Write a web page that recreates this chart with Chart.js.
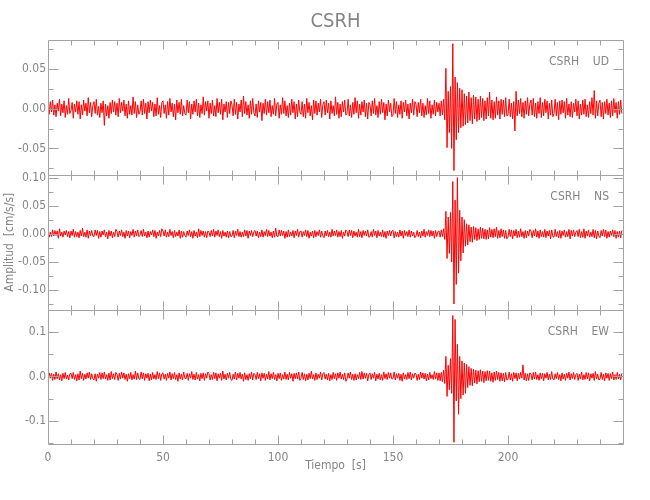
<!DOCTYPE html>
<html>
<head>
<meta charset="utf-8">
<title>CSRH</title>
<script src="https://cdn.jsdelivr.net/npm/chart.js@4.4.1/dist/chart.umd.min.js"></script>
<style>
  body { margin: 0; background: #fff; }
</style>
</head>
<body>
<canvas id="seis" width="650" height="500"></canvas>
<script>
var station = "CSRH";
var components = ["UD", "NS", "EW"];
var dt = 0.5; // s between samples

// amplitudes in 0.001 cm/s/s, one row = 10 s
var udVals = [
  3,-7,9,-4,11,-8,5,-10,7,-3,12,-9,6,-5,10,-11,4,-7,13,-6,
  -2,8,-12,6,-4,10,-7,9,-13,5,-8,11,-3,7,-9,14,-5,8,-10,4,
  9,-6,12,-8,3,-11,7,-5,10,-21,6,-9,4,-12,8,-6,11,-4,9,-8,
  7,-10,13,-5,8,-3,11,-9,6,-12,10,-7,4,-8,15,-6,9,-11,5,-7,
  -4,10,-8,12,-6,7,-13,9,-5,11,-3,8,-10,6,-9,14,-7,4,-11,8,
  10,-6,5,-12,9,-8,13,-4,7,-10,6,-14,11,-5,8,-7,12,-9,4,-6,
  -8,11,-5,9,-13,6,-7,10,-4,12,-9,7,-11,5,-6,15,-8,9,-3,10,
  -12,7,-6,11,-9,4,-10,13,-5,8,-7,12,-14,6,-4,9,-11,8,-6,10,
  5,-9,12,-7,8,-13,6,-4,11,-10,16,-6,9,-8,5,-12,10,-7,13,-5,
  -9,6,-11,10,-4,8,-15,7,-6,12,-8,9,-5,11,-10,4,-7,13,-9,6,
  8,-12,5,-7,14,-6,10,-9,4,-11,7,-8,12,-5,9,-13,6,-10,11,-4,
  -7,9,-10,6,-12,13,-5,8,-9,4,-14,11,-6,10,-8,7,-4,12,-11,5,
  9,-8,11,-5,7,-13,10,-6,4,-9,15,-7,8,-12,6,-10,9,-4,11,-8,
  -6,12,-9,5,-11,8,-7,14,-5,10,-12,6,-8,9,-4,11,-10,7,-13,8,
  5,-9,10,-6,13,-8,4,-11,9,-7,12,-5,8,-14,6,-9,11,-4,7,-10,
  -8,13,-6,9,-11,5,-7,10,-12,8,-4,11,-9,6,-13,7,-5,12,-8,9,
  6,-10,8,-5,12,-9,7,-11,4,-8,13,-6,10,-12,5,-7,11,-9,8,-4,
  7,-9,10,-8,12,-14,51,-49,22,-30,28,-50,82,-78,40,-39,33,-30,26,-24,
  24,-22,19,-20,16,-18,21,-15,14,-19,17,-13,15,-16,12,-14,16,-11,13,-15,
  10,-13,14,-9,21,-12,11,-14,9,-12,15,-8,10,-13,12,-7,11,-10,14,-9,
  -8,12,-10,7,-13,9,-28,22,-9,11,-6,13,-10,8,-12,10,-7,14,-9,6,
  11,-8,13,-10,7,-12,9,-6,14,-11,8,-9,12,-5,10,-13,7,-8,11,-10,
  -6,12,-9,8,-14,10,-7,11,-5,9,-12,13,-8,6,-10,9,-11,7,-4,12,
  -9,10,-13,6,-8,11,-7,12,-10,5,-11,9,-6,14,-8,23,-12,10,-9,7,
  11,-10,8,-13,9,-6,12,-8,7,-11,10,-9,13,-5,8,-12,9,-7,11,-6
];
var nsVals = [
  4,-6,3,-5,7,-4,6,-3,5,-8,9,-4,3,-6,5,-2,6,-5,4,-7,
  5,-3,8,-6,4,-5,3,-7,6,-4,10,-5,3,-6,7,-8,5,-3,6,-4,
  -5,7,-3,6,-8,4,-6,5,-2,7,-5,3,-9,6,-4,5,-7,3,-5,8,
  4,-6,5,-3,7,-5,3,-8,6,-4,5,-7,4,-3,8,-6,5,-4,7,-5,
  -3,6,-5,8,-4,3,-7,5,-6,4,-2,7,-5,6,-8,3,-4,6,-5,9,
  5,-4,7,-6,3,-5,8,-3,4,-7,6,-5,3,-4,7,-8,5,-6,4,-3,
  -6,5,-3,7,-5,4,-8,6,-4,3,-7,9,-5,6,-3,5,-6,4,-7,5,
  3,-5,6,-4,8,-6,5,-3,7,-5,4,-8,6,-4,3,-6,5,-7,4,-5,
  -4,6,-7,5,-3,8,-5,4,-6,3,-5,7,-4,6,-8,5,-3,6,-5,4,
  6,-4,5,-7,3,-5,7,-6,4,-3,8,-5,6,-4,3,-7,5,-6,10,-4,
  -5,7,-4,6,-3,5,-8,4,-6,7,-5,3,-4,6,-7,5,-3,8,-6,4,
  5,-6,4,-3,7,-5,6,-8,3,-4,5,-7,6,-5,4,-3,7,-6,5,-4,
  -7,5,-4,6,-5,3,-6,8,-4,5,-3,7,-6,4,-5,6,-8,3,-4,7,
  4,-5,7,-3,6,-7,5,-4,3,-6,8,-5,4,-7,6,-3,5,-4,7,-6,
  -5,4,-6,8,-3,5,-7,6,-4,3,-5,7,-6,4,-8,5,-3,6,-4,5,
  6,-7,4,-5,3,-6,7,-4,5,-8,6,-3,4,-5,7,-6,5,-4,3,-7,
  -4,6,-5,3,-7,5,-4,8,-6,4,-3,7,-5,6,-4,5,-8,6,-5,4,
  5,-6,7,-5,9,-10,40,-44,30,-35,38,-50,93,-125,60,-90,100,-70,42,-48,
  30,-34,25,-22,18,-20,16,-14,12,-15,13,-10,11,-12,9,-10,12,-8,10,-9,
  8,-10,7,-9,11,-6,8,-7,9,-5,12,-8,6,-7,9,-5,7,-8,6,-9,
  -6,8,-5,7,-9,6,-4,8,-7,5,-6,9,-5,4,-8,6,-7,5,-4,8,
  5,-7,6,-4,9,-6,5,-8,7,-5,4,-6,8,-7,5,-4,6,-9,7,-5,
  -6,8,-5,4,-7,6,-8,5,-3,7,-6,4,-5,8,-9,6,-4,7,-5,3,
  6,-5,8,-7,4,-6,9,-8,5,-4,7,-6,3,-5,8,-7,6,-9,5,-4,
  -7,6,-4,8,-5,7,-8,4,-6,5,-3,7,-5,6,-8,4,-6,5,-7,6
];
var ewVals = [
  -6,8,-4,7,-9,5,-7,10,-5,6,-8,4,-10,7,-5,9,-6,3,-8,6,
  7,-5,9,-7,4,-10,6,-8,12,-5,7,-9,5,-6,8,-4,10,-7,6,-5,
  -8,6,-11,5,-4,9,-7,8,-5,10,-6,4,-9,7,-8,11,-5,6,-7,9,
  5,-9,7,-6,10,-4,8,-7,5,-11,6,-5,9,-8,4,-6,12,-7,8,-5,
  -7,10,-5,8,-9,6,-4,7,-10,5,-8,9,-6,4,-7,11,-5,8,-9,6,
  8,-6,5,-9,7,-4,10,-8,6,-5,9,-7,4,-11,8,-6,5,-8,10,-4,
  -5,7,-9,6,-4,11,-7,5,-8,9,-6,4,-10,7,-5,8,-9,6,-4,10,
  6,-8,4,-7,9,-5,8,-10,6,-4,7,-9,12,-6,5,-8,7,-4,9,-7,
  -9,5,-6,10,-8,7,-4,9,-6,5,-11,8,-7,4,-9,6,-5,10,-8,7,
  4,-7,9,-5,6,-10,8,-4,7,-9,5,-6,11,-8,6,-5,9,-7,4,-10,
  7,-5,8,-9,4,-6,10,-7,5,-8,9,-4,6,-11,7,-5,8,-6,10,-9,
  -4,9,-7,6,-10,5,-8,7,-5,12,-6,4,-9,8,-7,5,-4,10,-8,6,
  9,-6,5,-8,7,-10,4,-7,9,-5,6,-9,8,-4,10,-6,5,-7,8,-11,
  -6,8,-4,10,-7,5,-9,6,-8,4,-5,9,-7,11,-6,8,-4,7,-10,5,
  8,-7,6,-4,9,-10,5,-6,7,-8,4,-9,10,-5,6,-7,9,-4,8,-6,
  -5,10,-8,6,-4,7,-9,5,-11,8,-6,4,-7,9,-5,10,-8,6,-4,7,
  6,-9,5,-7,10,-4,8,-6,7,-10,5,-8,9,-5,4,-7,11,-6,8,-9,
  8,-10,9,-12,14,-16,45,-45,25,-30,40,-38,137,-148,128,-55,72,-85,45,-50,
  35,-42,30,-38,27,-25,22,-20,18,-21,16,-15,14,-17,13,-12,15,-11,12,-14,
  11,-10,13,-9,12,-11,8,-13,10,-9,12,-7,9,-11,8,-10,7,-12,9,-8,
  -7,10,-8,6,-11,9,-5,8,-10,7,-6,9,-4,26,-8,7,-10,6,-9,8,
  5,-8,9,-6,10,-7,4,-9,8,-5,7,-10,6,-4,9,-8,5,-7,11,-6,
  -8,6,-5,9,-7,4,-10,8,-6,5,-9,7,-4,10,-8,6,-5,9,-7,4,
  7,-9,5,-6,10,-8,4,-7,9,-5,8,-10,6,-4,7,-9,11,-6,5,-8,
  -6,9,-7,5,-10,8,-4,7,-9,6,-5,10,-8,4,-7,9,-6,5,-8,7
];

// axis ranges (cm/s/s) and tick steps per panel
var yMins = [-0.0833, -0.135, -0.153];
var yMaxs = [0.0867, 0.105, 0.150];
var ySteps = [0.05, 0.05, 0.1];
var yMinor = [0.025, 0.025, 0.05];
var yDecimals = [2, 2, 1];
var xMax = 250;

var grey = '#858585';
var axisGrey = '#a3a3a3';
var fam = "'Liberation Sans Narrow', 'DejaVu Sans Condensed', 'Roboto', sans-serif";
var axisIds = ['yUD', 'yNS', 'yEW'];

function series(vals) {
  return vals.map(function(v, i) { return { x: i * dt, y: v / 1000 }; });
}

function yAxis(i) {
  return {
    type: 'linear',
    position: 'left',
    stack: 'panels',
    stackWeight: 1,
    min: yMins[i],
    max: yMaxs[i],
    grid: { display: false, drawTicks: false },
    border: { display: false },
    ticks: {
      stepSize: ySteps[i],
      includeBounds: false,
      padding: 2,
      color: grey,
      font: { family: fam, size: 12 },
      callback: function(v) { return v.toFixed(yDecimals[i]); }
    },
    title: {
      display: i === 1,
      text: 'Amplitud  [cm/s/s]',
      color: grey,
      font: { family: fam, size: 12 },
      padding: { top: 3, bottom: 0 }
    },
    afterFit: function(s) { s.width = 48; }
  };
}

// box, inward ticks on all sides and the station labels
var panelFrame = {
  id: 'panelFrame',
  afterDatasetsDraw: function(chart) {
    var ctx = chart.ctx, xs = chart.scales.x, area = chart.chartArea;
    var L = Math.round(area.left) + 0.5, R = Math.round(area.right) + 0.5;
    ctx.save();
    ctx.strokeStyle = axisGrey;
    ctx.lineWidth = 1;
    ctx.beginPath();
    axisIds.forEach(function(id, i) {
      var ys = chart.scales[id];
      var top = Math.round(ys.top) + 0.5, bot = Math.round(ys.bottom) + 0.5;
      ctx.rect(L, top, R - L, bot - top);
      for (var t = 10; t < xMax; t += 10) {
        var px = Math.round(xs.getPixelForValue(t)) + 0.5;
        var len = t % 50 === 0 ? 9 : 5;
        ctx.moveTo(px, bot); ctx.lineTo(px, bot - len);
        ctx.moveTo(px, top); ctx.lineTo(px, top + len);
      }
      var step = yMinor[i];
      for (var k = Math.ceil(yMins[i] / step); k * step <= yMaxs[i]; k++) {
        var py = Math.round(ys.getPixelForValue(k * step)) + 0.5;
        var ln = Math.abs(k) % 2 === 0 ? 10 : 5;
        ctx.moveTo(L, py); ctx.lineTo(L + ln, py);
        ctx.moveTo(R, py); ctx.lineTo(R - ln, py);
      }
    });
    ctx.stroke();
    ctx.fillStyle = grey;
    ctx.font = '12px ' + fam;
    ctx.textAlign = 'right';
    ctx.textBaseline = 'middle';
    axisIds.forEach(function(id, i) {
      var ys = chart.scales[id];
      ctx.fillText(station + '    ' + components[i], area.right - 14, ys.top + 22);
    });
    ctx.restore();
  }
};

var lineStyle = { borderColor: '#ff0000', borderWidth: 1, pointRadius: 0, tension: 0 };

new Chart(document.getElementById('seis'), {
  type: 'line',
  data: {
    datasets: [
      Object.assign({ label: components[0], data: series(udVals), yAxisID: 'yUD' }, lineStyle),
      Object.assign({ label: components[1], data: series(nsVals), yAxisID: 'yNS' }, lineStyle),
      Object.assign({ label: components[2], data: series(ewVals), yAxisID: 'yEW' }, lineStyle)
    ]
  },
  options: {
    responsive: false,
    animation: false,
    layout: { padding: { left: 0, right: 27, top: 0, bottom: 0 } },
    plugins: {
      legend: { display: false },
      tooltip: { enabled: false },
      title: {
        display: true,
        text: station,
        fullSize: false,
        color: grey,
        font: { family: fam, size: 20, weight: 'normal' },
        padding: { top: 10, bottom: 6 }
      }
    },
    scales: {
      x: {
        type: 'linear',
        min: 0,
        max: xMax,
        position: 'bottom',
        grid: { display: false, drawTicks: false },
        border: { display: false },
        ticks: {
          stepSize: 50,
          padding: 6,
          color: grey,
          font: { family: fam, size: 12 },
          callback: function(v) { return v < xMax ? v : ''; }
        },
        title: {
          display: true,
          text: 'Tiempo  [s]',
          color: grey,
          font: { family: fam, size: 12 },
          padding: { top: 4, bottom: 27 }
        },
        afterFit: function(s) { s.height = 55.5; }
      },
      // stacked axes fill from the bottom up
      yEW: yAxis(2),
      yNS: yAxis(1),
      yUD: yAxis(0)
    }
  },
  plugins: [panelFrame]
});
</script>
</body>
</html>
